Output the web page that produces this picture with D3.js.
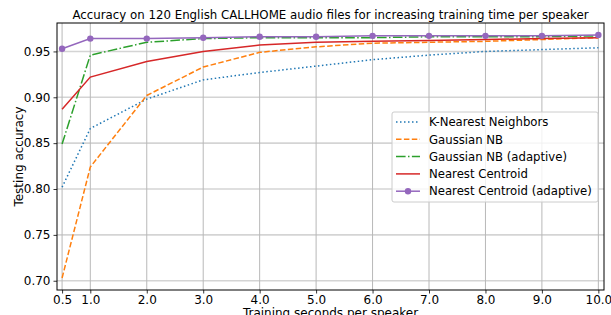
<!DOCTYPE html>
<html>
<head>
<meta charset="utf-8">
<script src="https://cdn.jsdelivr.net/npm/d3@7"></script>
<style>
  body { margin: 0; background: #fff; }
  svg { font-family: "DejaVu Sans", sans-serif; }
</style>
</head>
<body>
<svg id="chart" width="611" height="315"></svg>
<script>
const seconds = [0.5, 1, 2, 3, 4, 5, 6, 7, 8, 9, 10];
const xTicks = [0.5, 1, 2, 3, 4, 5, 6, 7, 8, 9, 10];
const yTicks = [0.70, 0.75, 0.80, 0.85, 0.90, 0.95];

const knn = [0.802, 0.866, 0.898, 0.919, 0.927, 0.934, 0.941, 0.946, 0.950, 0.952, 0.954];
const gaussianNB = [0.703, 0.824, 0.902, 0.933, 0.949, 0.955, 0.959, 0.960, 0.961, 0.963, 0.965];
const gaussianNBAdaptive = [0.849, 0.946, 0.960, 0.964, 0.965, 0.965, 0.965, 0.966, 0.966, 0.966, 0.967];
const nearestCentroid = [0.887, 0.922, 0.939, 0.950, 0.957, 0.960, 0.961, 0.962, 0.963, 0.964, 0.965];
const nearestCentroidAdaptive = [0.953, 0.964, 0.964, 0.965, 0.966, 0.966, 0.967, 0.967, 0.967, 0.967, 0.968];

const series = [
  { name: "K-Nearest Neighbors", values: knn, color: "#1f77b4", dash: "1.5,2.5" },
  { name: "Gaussian NB", values: gaussianNB, color: "#ff7f0e", dash: "5.5,2.4" },
  { name: "Gaussian NB (adaptive)", values: gaussianNBAdaptive, color: "#2ca02c", dash: "9.6,2.4,1.5,2.4" },
  { name: "Nearest Centroid", values: nearestCentroid, color: "#d62728", dash: null },
  { name: "Nearest Centroid (adaptive)", values: nearestCentroidAdaptive, color: "#9467bd", dash: null, marker: true },
];

const svg = d3.select("#chart");
const m = { left: 57, right: 604, top: 23, bottom: 290 };

const x = d3.scaleLinear().domain([0.41, 10.1]).range([m.left, m.right]);
const y = d3.scaleLinear().domain([0.6899, 0.981]).range([m.bottom, m.top]);

// grid
svg.append("g")
  .selectAll("line")
  .data(yTicks)
  .join("line")
  .attr("x1", m.left).attr("x2", m.right)
  .attr("y1", (d) => y(d)).attr("y2", (d) => y(d))
  .attr("stroke", "#d4d4d4").attr("stroke-width", 1.6);

svg.append("g")
  .selectAll("line")
  .data(xTicks)
  .join("line")
  .attr("x1", (d) => x(d)).attr("x2", (d) => x(d))
  .attr("y1", m.top).attr("y2", m.bottom)
  .attr("stroke", "#b8b8b8").attr("stroke-width", 1);

// axes
const xAxis = d3.axisBottom(x).tickValues(xTicks).tickFormat(d3.format(".1f")).tickSize(3.5).tickPadding(2);
const yAxis = d3.axisLeft(y).tickValues(yTicks).tickFormat(d3.format(".2f")).tickSize(3.5).tickPadding(3);

const gx = svg.append("g").attr("transform", `translate(0,${m.bottom})`).call(xAxis);
const gy = svg.append("g").attr("transform", `translate(${m.left},0)`).call(yAxis);
for (const g of [gx, gy]) {
  g.select(".domain").remove();
  g.selectAll("text").attr("font-size", 12).attr("fill", "#000").attr("font-family", "DejaVu Sans");
  g.selectAll("line").attr("stroke", "#000").attr("stroke-width", 0.8);
}

// lines
const line = d3.line()
  .x((d, i) => x(seconds[i]))
  .y((d) => y(d));

const plot = svg.append("g");
for (const s of series) {
  plot.append("path")
    .attr("d", line(s.values))
    .attr("fill", "none")
    .attr("stroke", s.color)
    .attr("stroke-width", 1.5)
    .attr("stroke-dasharray", s.dash);
  if (s.marker)
    plot.selectAll(null)
      .data(s.values)
      .join("circle")
      .attr("cx", (d, i) => x(seconds[i]))
      .attr("cy", (d) => y(d))
      .attr("r", 3.2)
      .attr("fill", s.color);
}

// frame
svg.append("rect")
  .attr("x", m.left).attr("y", m.top)
  .attr("width", m.right - m.left).attr("height", m.bottom - m.top)
  .attr("fill", "none").attr("stroke", "#000").attr("stroke-width", 1);

// legend
const legend = svg.append("g").attr("transform", "translate(392,112)");
legend.append("rect")
  .attr("width", 206).attr("height", 90).attr("rx", 2)
  .attr("fill", "#fff").attr("fill-opacity", 0.8)
  .attr("stroke", "#ccc").attr("stroke-width", 1);

series.forEach((s, i) => {
  const ly = 10 + i * 17.3;
  legend.append("line")
    .attr("x1", 4).attr("x2", 28).attr("y1", ly).attr("y2", ly)
    .attr("stroke", s.color).attr("stroke-width", 1.5)
    .attr("stroke-dasharray", s.dash);
  if (s.marker)
    legend.append("circle").attr("cx", 16).attr("cy", ly).attr("r", 3.2).attr("fill", s.color);
  legend.append("text")
    .attr("x", 37).attr("y", ly).attr("dy", "0.36em")
    .attr("font-size", 11.7)
    .text(s.name);
});

// titles
svg.append("text")
  .attr("x", (m.left + m.right) / 2).attr("y", 19)
  .attr("text-anchor", "middle").attr("font-size", 11.8)
  .text("Accuracy on 120 English CALLHOME audio files for increasing training time per speaker");

svg.append("text")
  .attr("transform", `translate(23,${(m.top + m.bottom) / 2}) rotate(-90)`)
  .attr("text-anchor", "middle").attr("font-size", 12)
  .text("Testing accuracy");

svg.append("text")
  .attr("x", (m.left + m.right) / 2).attr("y", 317)
  .attr("text-anchor", "middle").attr("font-size", 12)
  .text("Training seconds per speaker");
</script>
</body>
</html>
